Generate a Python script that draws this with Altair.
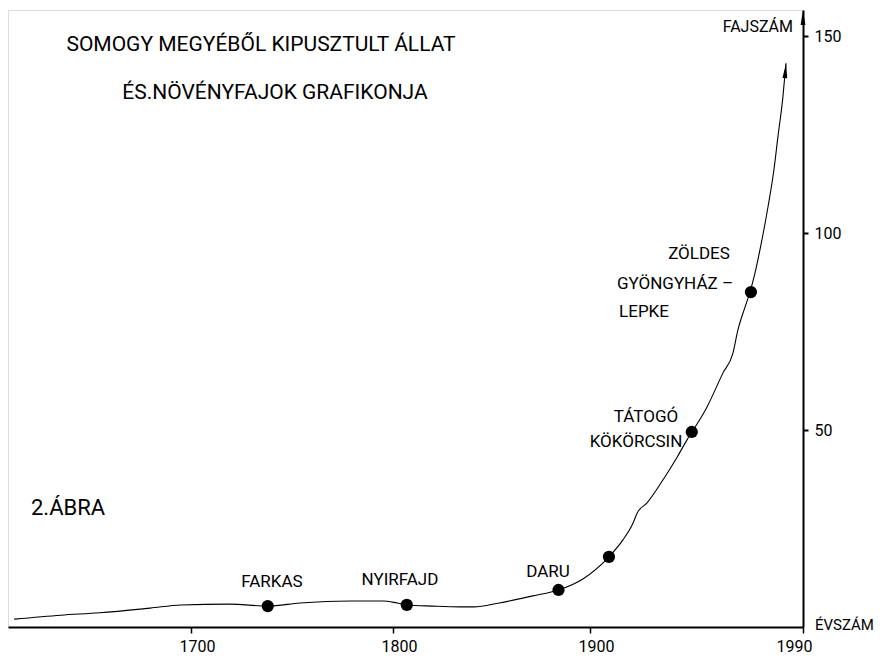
import altair as alt
import pandas as pd

# ---- data ----
curve_year = [1613, 1636, 1655, 1680, 1695, 1719, 1738, 1754, 1779, 1795, 1802, 1807,
              1820, 1834, 1841, 1854, 1871, 1884, 1896.4, 1908, 1913.9, 1918.2, 1919.9,
              1924.1, 1930.8, 1936.8, 1941.0, 1943.1, 1949.4, 1956.2, 1960.4, 1962.5,
              1965.5, 1967.6, 1969.7, 1971.8, 1975.2, 1977.7, 1979.4, 1981.5, 1982.8]
curve_value = [2.0, 3.0, 3.6, 4.8, 5.6, 5.8, 5.3, 6.1, 6.6, 6.6, 6.1, 5.6,
               5.3, 5.1, 5.1, 6.1, 7.9, 9.4, 12.2, 17.8, 22.1, 26.4, 28.9,
               31.5, 37.3, 43.1, 47.5, 49.5, 55.8, 64.5, 69.5, 75.4,
               81.2, 85.0, 89.8, 95.7, 106.6, 116.0, 124.4, 134.5, 143.1]

dot_year = [1738, 1807, 1884, 1908, 1943, 1968]
dot_value = [5.3, 5.6, 9.4, 17.8, 49.5, 85.0]

arrow_year = [1982.6]
arrow_value = [141.2]
axis_arrow_year = [1990]
axis_arrow_value = [154.7]

x_breaks = [1610, 1700, 1800, 1900, 1990]
x_tick_values = [1700, 1800, 1900, 1990]
y_tick_values = [50, 100, 150]
y_max = 156.6

title_lines = ["SOMOGY MEGYÉBŐL KIPUSZTULT ÁLLAT", "ÉS.NÖVÉNYFAJOK  GRAFIKONJA"]
species_labels = ["FARKAS", "NYIRFAJD", "DARU", "TÁTOGÓ", "KÖKÖRCSIN",
                  "ZÖLDES", "GYÖNGYHÁZ –", "LEPKE"]

# ---- layout ----
W, H = 795, 617
FONT = "Roboto"
ARROW = "M0,-1L0.32,1L-0.32,1Z"

curve_df = pd.DataFrame({"year": curve_year, "value": curve_value})
dot_df = pd.DataFrame({"year": dot_year, "value": dot_value})
arrow_df = pd.DataFrame({"year": arrow_year, "value": arrow_value})
axis_arrow_df = pd.DataFrame({"year": axis_arrow_year, "value": axis_arrow_value})

xscale = alt.Scale(domain=x_breaks, range=[0, 183, 385, 582, 795], nice=False, zero=False)
yscale = alt.Scale(domain=[0, y_max], nice=False)

x_enc = alt.X("year:Q", scale=xscale, title=None,
              axis=alt.Axis(values=x_tick_values, format="d", grid=False,
                            domainColor="black", domainWidth=2,
                            tickColor="black", tickWidth=1.5, tickSize=6,
                            labelFont=FONT, labelFontSize=16, labelColor="black",
                            labelPadding=5, labelFlush=False, labelOverlap=False,
                            labelOffset={"condition": {"test": "datum.value == 1990", "value": -9},
                                         "value": 6}))
y_enc = alt.Y("value:Q", scale=yscale, title=None,
              axis=alt.Axis(orient="right", values=y_tick_values, grid=False,
                            domainColor="black", domainWidth=2,
                            tickColor="black", tickWidth=2, tickSize=5,
                            labelFont=FONT, labelFontSize=16, labelColor="black",
                            labelPadding=6, labelFlush=False))

line = alt.Chart(curve_df).mark_line(color="black", strokeWidth=1.1,
                                     interpolate="monotone").encode(x=x_enc, y=y_enc)
dots = alt.Chart(dot_df).mark_circle(color="black", size=150, opacity=1).encode(x=x_enc, y=y_enc)
arrow = alt.Chart(arrow_df).mark_point(shape=ARROW, filled=True, color="black",
                                       size=225, angle=5, opacity=1).encode(x=x_enc, y=y_enc)
axis_arrow = alt.Chart(axis_arrow_df).mark_point(shape=ARROW, filled=True, color="black",
                                                 size=225, opacity=1).encode(x=x_enc, y=y_enc)

one = pd.DataFrame({"k": [0]})


def label(text, px, py, size=17, align="center"):
    return alt.Chart(one).mark_text(text=text, font=FONT, fontSize=size, color="black",
                                    align=align, baseline="middle").encode(
        x=alt.value(px), y=alt.value(py))


texts = [
    label(title_lines[0], 253, 35, 21),
    label(title_lines[1], 267, 83, 21),
    label("2.ÁBRA", 23, 498, 22, "left"),
    label(species_labels[0], 264, 572),
    label(species_labels[1], 392, 570),
    label(species_labels[2], 540, 562),
    label(species_labels[3], 638, 407),
    label(species_labels[4], 628, 432),
    label(species_labels[5], 691, 244),
    label(species_labels[6], 667, 274),
    label(species_labels[7], 636, 302),
    label("FAJSZÁM", 785, 17, 16, "right"),
    label("ÉVSZÁM", 807, 615, 15, "left"),
]

chart = alt.layer(line, dots, arrow, axis_arrow, *texts).properties(
    width=W, height=H,
    padding={"left": 0, "top": 2, "right": 78, "bottom": 30},
    autosize=alt.AutoSizeParams(type="none"),
).configure_view(stroke=None).configure(background="white")

chart.save("out.html", embed_options={"renderer": "svg", "actions": False})
